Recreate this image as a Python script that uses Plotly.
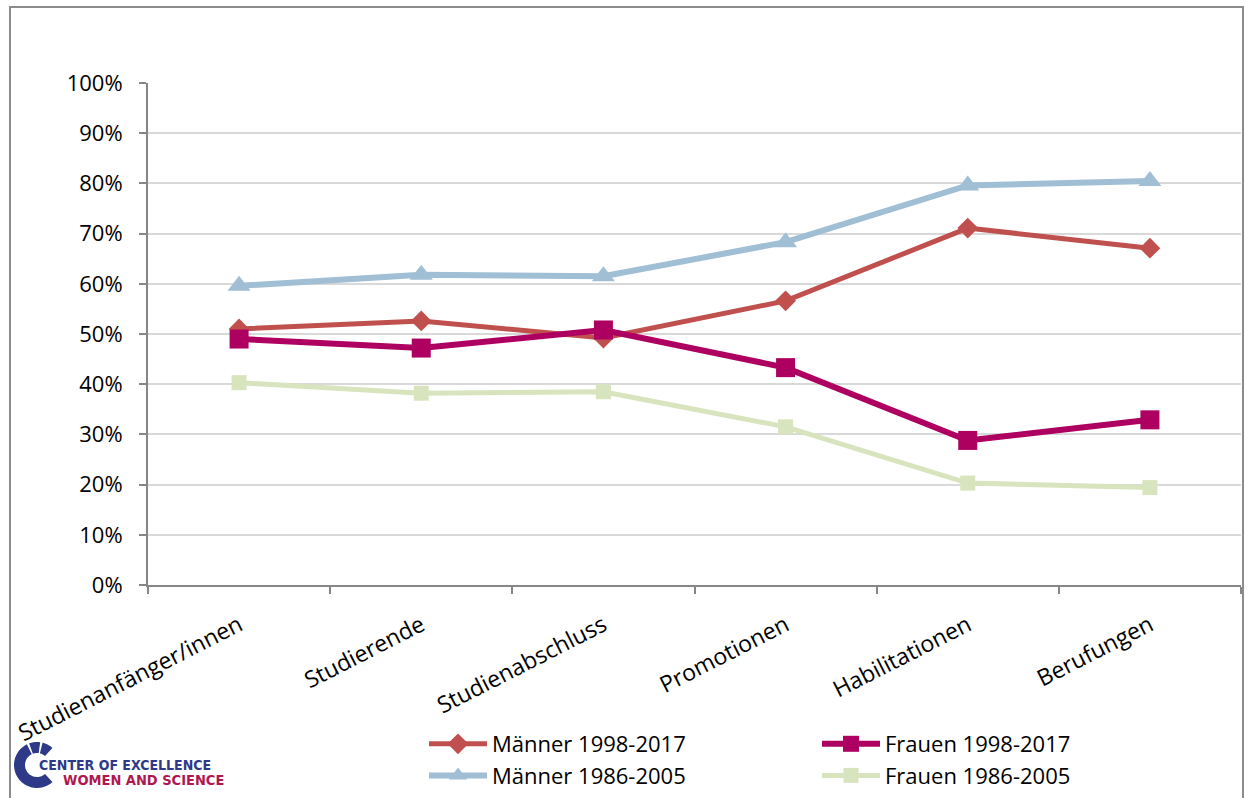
import numpy as np
import plotly.graph_objects as go

categories = ["Studienanfänger/innen", "Studierende", "Studienabschluss",
              "Promotionen", "Habilitationen", "Berufungen"]
maenner_1998_2017 = [51.0, 52.6, 49.2, 56.6, 71.1, 67.1]
frauen_1998_2017 = [49.0, 47.2, 50.8, 43.3, 28.8, 32.9]
maenner_1986_2005 = [59.6, 61.8, 61.5, 68.3, 79.6, 80.5]
frauen_1986_2005 = [40.3, 38.2, 38.5, 31.5, 20.3, 19.4]
y_ticks = [0, 10, 20, 30, 40, 50, 60, 70, 80, 90, 100]

W, H = 1248, 798
L, R, T, B = 148, 7, 83, 213
PW, PH = W - L - R, H - T - B

def px(x):
    return (x - L) / PW

def py(y):
    return (H - B - y) / PH

FONT = "Open Sans, Noto Sans, sans-serif"
LOGO_FONT = "Liberation Sans Narrow, DejaVu Sans Condensed, Arial Narrow, sans-serif"

fig = go.Figure()
series = [
    ("Männer 1998-2017", maenner_1998_2017, "#C0504D", "diamond", 16, 5),
    ("Frauen 1998-2017", frauen_1998_2017, "#AE0060", "square", 19, 6),
    ("Männer 1986-2005", maenner_1986_2005, "#A0BED4", "triangle-up", 20, 6),
    ("Frauen 1986-2005", frauen_1986_2005, "#D7E4BD", "square", 15, 5),
]
for name, vals, col, sym, ms, lw in series:
    fig.add_trace(go.Scatter(
        x=categories, y=vals, name=name, mode="lines+markers",
        line=dict(color=col, width=lw),
        marker=dict(symbol=sym, size=ms, color=col),
    ))

shapes = []
# outer chart border
shapes.append(dict(type="rect", xref="paper", yref="paper",
                   x0=px(10), x1=px(1243), y0=py(7), y1=py(805),
                   line=dict(color="#8C8C8C", width=2), layer="below"))

# logo "C" mark
cx, cy, ro, ri = 37, 765, 23, 12
def arc_path(a0, a1):
    a = np.radians(np.linspace(a0, a1, 40))
    outer = [(cx + ro * np.cos(t), cy - ro * np.sin(t)) for t in a]
    inner = [(cx + ri * np.cos(t), cy - ri * np.sin(t)) for t in a[::-1]]
    pts = outer + inner
    d = "M " + " L ".join(f"{px(x):.5f},{py(y):.5f}" for x, y in pts) + " Z"
    return d
for a0, a1 in [(48, 76), (82, 110), (116, 312)]:
    shapes.append(dict(type="path", xref="paper", yref="paper",
                       path=arc_path(a0, a1), fillcolor="#2E3A87",
                       line=dict(width=0)))

annotations = [
    dict(text="<b>CENTER OF EXCELLENCE</b>", x=px(37), y=py(765), xref="paper",
         yref="paper", xanchor="left", yanchor="middle", showarrow=False,
         font=dict(family=LOGO_FONT, size=14, color="#2E3A87")),
    dict(text="<b>WOMEN AND SCIENCE</b>", x=px(61), y=py(780), xref="paper",
         yref="paper", xanchor="left", yanchor="middle", showarrow=False,
         font=dict(family=LOGO_FONT, size=14.5, color="#B0174F")),
]

fig.update_layout(
    width=W, height=H,
    margin=dict(l=L, r=R, t=T, b=B, pad=0, autoexpand=False),
    paper_bgcolor="white", plot_bgcolor="white",
    font=dict(family=FONT, size=22, color="#000000"),
    showlegend=True,
    legend=dict(orientation="h", x=px(424), y=py(723), xanchor="left", yanchor="top",
                entrywidth=320, entrywidthmode="pixels", itemwidth=58,
                font=dict(family=FONT, size=22, color="#000000"),
                tracegroupgap=0, itemclick=False, bgcolor="rgba(0,0,0,0)"),
    shapes=shapes,
    annotations=annotations,
    xaxis=dict(type="category", range=[-0.5, 5.5], showline=True, linecolor="#868686",
               linewidth=2, ticks="outside", tickson="boundaries", ticklen=7,
               tickcolor="#868686", tickwidth=2, showgrid=False, tickangle=-27,
               tickfont=dict(family=FONT, size=23), ticklabelstandoff=16,
               automargin=False),
    yaxis=dict(range=[0, 100], tickvals=y_ticks, ticktext=[f"{v}%" for v in y_ticks],
               showline=True, linecolor="#868686", linewidth=2, ticks="outside",
               ticklen=7, tickcolor="#868686", tickwidth=2, showgrid=True,
               gridcolor="#D9D9D9", gridwidth=1.5, zeroline=False,
               tickfont=dict(family=FONT, size=22), ticklabelstandoff=12,
               automargin=False),
)

fig.write_html(
    "out.html",
    config={"displayModeBar": False, "responsive": False},
    post_script=(
        "var de=document.documentElement, b=document.body;"
        "de.style.margin='0';de.style.padding='0';de.style.overflow='hidden';"
        "b.style.margin='0';b.style.padding='0';b.style.overflow='hidden';"
    ),
)
